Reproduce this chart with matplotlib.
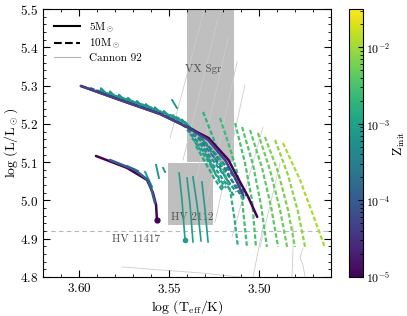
import numpy as np
import matplotlib
matplotlib.use("Agg")
import matplotlib.pyplot as plt
from matplotlib.colors import LogNorm
from matplotlib.lines import Line2D
from matplotlib.ticker import MultipleLocator

plt.rcParams['font.family'] = 'serif'
plt.rcParams['font.serif'] = ['cmr10']
plt.rcParams['mathtext.fontset'] = 'cm'
plt.rcParams['axes.formatter.use_mathtext'] = True

# solid tracks (log Teff, log L, Z_init)
solid_T = [
    [3.599, 3.577, 3.555, 3.540, 3.528, 3.517, 3.512, 3.506, 3.501],
    [3.5989, 3.5772, 3.555, 3.54, 3.5283, 3.5189, 3.5133, 3.5089],
    [3.5906, 3.5733, 3.5622, 3.5589, 3.5572, 3.5567],
    [3.5828, 3.5689, 3.5617, 3.5594, 3.5578],
]
solid_L = [
    [5.299, 5.262, 5.226, 5.192, 5.163, 5.106, 5.061, 5.009, 4.957],
    [5.299, 5.2624, 5.2258, 5.1919, 5.158, 5.1057, 5.0587, 5.0144],
    [5.1162, 5.0849, 5.0535, 5.0196, 4.9883, 4.9491],
    [5.1057, 5.0796, 5.0535, 5.0222, 4.9935],
]
solid_Z = [1e-5, 5e-5, 1e-5, 1e-4]

# blue-loop sawtooth of the upper track
saw_T = [3.5883, 3.5878, 3.5833, 3.5828, 3.5783, 3.5778, 3.5733, 3.5728,
         3.5683, 3.5678, 3.5633, 3.5628, 3.5583, 3.5578, 3.5533, 3.5528,
         3.5483, 3.5478, 3.5433, 3.5428, 3.5383]
saw_L = [5.2812, 5.2932, 5.2726, 5.2849, 5.2642, 5.2765, 5.2559, 5.2681,
         5.2478, 5.2598, 5.2397, 5.2517, 5.2313, 5.2433, 5.2222, 5.2339,
         5.211, 5.2227, 5.1997, 5.2115, 5.1883]
saw_Z = 7e-4

# near-vertical tracks inside the HV 2112 box
vert_T = [[3.5444, 3.5428, 3.5411], [3.54, 3.5383, 3.5367],
          [3.5367, 3.5344, 3.5322], [3.5317, 3.53, 3.5283]]
vert_L = [[5.0718, 5.0013, 4.8969], [5.0587, 4.9882, 4.8917],
          [5.0614, 4.9882, 4.8943], [5.0483, 4.9752, 4.8917]]
vert_Z = [9e-4, 9e-4, 9e-4, 9e-4]

# short track pieces
short_T = [[3.5633, 3.5594], [3.5572, 3.5556], [3.5533, 3.5522],
           [3.5483, 3.5456], [3.5733, 3.5672]]
short_L = [[5.0744, 5.0353], [5.0927, 5.0587], [5.0849, 5.0744],
           [5.2624, 5.2415], [5.0901, 5.077]]
short_Z = [8e-4, 8e-4, 8e-4, 8e-4, 8e-4]

# dashed tracks
dashed_T = [
    [3.5939, 3.5717, 3.5494, 3.5356, 3.5261, 3.5183, 3.5128, 3.5083],
    [3.5883, 3.5661, 3.545, 3.5339, 3.5272, 3.5217, 3.5161],
    [3.5828, 3.5606, 3.5411, 3.5328, 3.5283, 3.5239, 3.5194],
    [3.54, 3.5328, 3.5261, 3.5194, 3.5128, 3.5083],
    [3.5383, 3.5317, 3.525, 3.5183, 3.5128],
    [3.5372, 3.5306, 3.5244, 3.5183, 3.5139],
    [3.5356, 3.5294, 3.5239, 3.5183],
    [3.535, 3.5294, 3.525, 3.5206],
    [3.5328, 3.5261, 3.5194, 3.5128, 3.5072],
    [3.5311, 3.525, 3.5206, 3.5161, 3.5139, 3.5117],
    [3.5217, 3.5167, 3.5122, 3.5094, 3.5067],
    [3.5133, 3.5078, 3.5039, 3.5017],
    [3.5094, 3.5033, 3.4989, 3.4956],
    [3.505, 3.4983, 3.4933, 3.4894],
    [3.5006, 3.4939, 3.4883, 3.4844],
    [3.4967, 3.4894, 3.4839, 3.48],
    [3.4911, 3.4839, 3.4783, 3.4744],
    [3.4867, 3.4772, 3.47, 3.4633],
]
dashed_L = [
    [5.2937, 5.2572, 5.218, 5.1762, 5.1319, 5.0796, 5.0326, 5.0013],
    [5.2859, 5.252, 5.2154, 5.1762, 5.1319, 5.0849, 5.0405],
    [5.2781, 5.2441, 5.205, 5.1632, 5.111, 5.0666, 5.0274],
    [5.1841, 5.158, 5.1188, 5.0796, 5.0379, 5.0065],
    [5.1736, 5.1423, 5.1005, 5.0587, 5.0222],
    [5.1632, 5.1266, 5.0849, 5.0431, 5.0117],
    [5.1527, 5.111, 5.0692, 5.0326],
    [5.1423, 5.0953, 5.0587, 5.0274],
    [5.1658, 5.1319, 5.0953, 5.0535, 5.0117],
    [5.2311, 5.158, 5.0927, 5.0274, 4.9621, 4.8786],
    [5.2154, 5.1449, 5.0744, 5.0013, 4.8786],
    [5.2023, 5.0979, 5.0013, 4.8786],
    [5.1919, 5.0927, 4.9883, 4.8786],
    [5.1841, 5.0849, 4.983, 4.8786],
    [5.1762, 5.0796, 4.9752, 4.8786],
    [5.1658, 5.0744, 4.9752, 4.8786],
    [5.158, 5.0666, 4.97, 4.8786],
    [5.1501, 5.0535, 4.9621, 4.876],
]
dashed_Z = [2e-4, 6e-4, 1e-3, 3e-4, 6e-4, 8e-4, 1e-3, 1.2e-3, 4e-4,
            1.8e-3, 2.5e-3, 3e-3, 3.6e-3, 4.3e-3, 5.2e-3, 6.3e-3, 8e-3, 1.1e-2]

# Cannon 92 tracks
cannon_T = [
    [3.5306, 3.5494], [3.5228, 3.5422], [3.5172, 3.535], [3.5122, 3.5289],
    [3.5078, 3.5244], [3.4978, 3.515], [3.4883, 3.4994],
    [3.5761, 3.555, 3.5328, 3.5106], [3.4978, 3.5033],
    [3.4811, 3.4811, 3.4817], [3.4756, 3.4772, 3.4756, 3.4744],
]
cannon_L = [
    [5.4948, 5.1632], [5.4765, 5.1057], [5.4243, 5.0535], [5.3616, 5.0013],
    [5.3016, 4.9439], [5.1919, 4.9047], [5.0979, 4.8786],
    [4.8264, 4.8185, 4.8107, 4.8003], [4.9308, 4.8003],
    [4.936, 4.8708, 4.8003], [4.876, 4.8499, 4.8316, 4.8003],
]

# observed stars: (Teff range, L range)
vxsgr_T = [3.514, 3.54]
vxsgr_L = [5.1, 5.6]
hv2112_T = [3.5256, 3.5506]
hv2112_L = [4.936, 5.098]
hv11417_L = 4.92

cbar_ticks = [1e-5, 1e-4, 1e-3, 1e-2]
cbar_labels = [r'$10^{-5}$', r'$10^{-4}$', r'$10^{-3}$', r'$10^{-2}$']

cmap = plt.get_cmap('viridis')
norm = LogNorm(vmin=1e-5, vmax=10**-1.5)

fig = plt.figure(figsize=(4.07, 3.16), dpi=100)
ax = fig.add_axes([0.1057, 0.1234, 0.7076, 0.848])
cax = fig.add_axes([0.8575, 0.1234, 0.0344, 0.848])

ax.axvspan(vxsgr_T[0], vxsgr_T[1], ymin=(vxsgr_L[0] - 4.8) / 0.7, ymax=1,
           color='0.75', lw=0, zorder=0.5)
ax.axvspan(hv2112_T[0], hv2112_T[1], ymin=(hv2112_L[0] - 4.8) / 0.7,
           ymax=(hv2112_L[1] - 4.8) / 0.7, color='0.75', lw=0, zorder=0.5)
ax.axhline(hv11417_L, color='0.72', ls='--', lw=0.8, dashes=(4, 3), zorder=1)

for t, l in zip(cannon_T, cannon_L):
    ax.plot(t, l, color='0.8', lw=0.6, zorder=1)

ax.text(3.5311, 5.3433, 'VX Sgr', fontsize=8, color='0.3', ha='center', va='center', zorder=1.5)
ax.text(3.5372, 4.957, 'HV 2112', fontsize=8, color='0.3', ha='center', va='center', zorder=1.5)
ax.text(3.5683, 4.8995, 'HV 11417', fontsize=8, color='0.3', ha='center', va='center', zorder=1.5)

for t, l, z in zip(dashed_T, dashed_L, dashed_Z):
    ax.plot(t, l, color=cmap(norm(z)), lw=1.6, dashes=(2, 1), zorder=2)

ax.plot(saw_T, saw_L, color=cmap(norm(saw_Z)), lw=1.4, zorder=2.5)

for t, l, z in zip(vert_T, vert_L, vert_Z):
    ax.plot(t, l, color=cmap(norm(z)), lw=1.2, zorder=2.5)

for t, l, z in zip(short_T, short_L, short_Z):
    ax.plot(t, l, color=cmap(norm(z)), lw=1.4, zorder=2.5)

for t, l, z in zip(solid_T, solid_L, solid_Z):
    ax.plot(t, l, color=cmap(norm(z)), lw=1.8, solid_capstyle='round', zorder=3)

# end points
ax.plot(solid_T[2][-1], solid_L[2][-1], 'o', ms=3.5, color=cmap(norm(solid_Z[2])), zorder=3)
ax.plot(vert_T[0][-1], vert_L[0][-1], 'o', ms=3, color=cmap(norm(vert_Z[0])), zorder=3)

ax.set_xlim(3.62, 3.46)
ax.set_ylim(4.8, 5.5)
ax.xaxis.set_major_locator(MultipleLocator(0.05))
ax.xaxis.set_minor_locator(MultipleLocator(0.01))
ax.yaxis.set_major_locator(MultipleLocator(0.1))
ax.yaxis.set_minor_locator(MultipleLocator(0.02))
ax.tick_params(which='both', direction='in', top=True, right=True, labelsize=9.5)
ax.tick_params(which='major', length=5, width=0.8)
ax.tick_params(which='minor', length=2.5, width=0.6)
ax.set_xlabel(r'$\log\,(\mathrm{T_{eff}/K})$', fontsize=10, labelpad=2)
ax.set_ylabel(r'$\log\,(\mathrm{L/L_\odot})$', fontsize=10, labelpad=0)

handles = [Line2D([], [], color='k', lw=1.5),
           Line2D([], [], color='k', lw=1.5, ls='--'),
           Line2D([], [], color='0.7', lw=0.8)]
ax.legend(handles, [r'$5\mathrm{M}_\odot$', r'$10\mathrm{M}_\odot$', 'Cannon 92'],
          loc='upper left', frameon=False, fontsize=8, handlelength=2.3,
          borderaxespad=0.6, labelspacing=0.2)

sm = plt.cm.ScalarMappable(norm=norm, cmap=cmap)
cb = fig.colorbar(sm, cax=cax)
cb.set_ticks(cbar_ticks)
cb.set_ticklabels(cbar_labels)
cax.tick_params(which='both', direction='in', labelsize=8.5, pad=2)
cb.set_label(r'$\mathrm{Z_{init}}$', fontsize=10, labelpad=1)

fig.savefig('out.png', dpi=100)
